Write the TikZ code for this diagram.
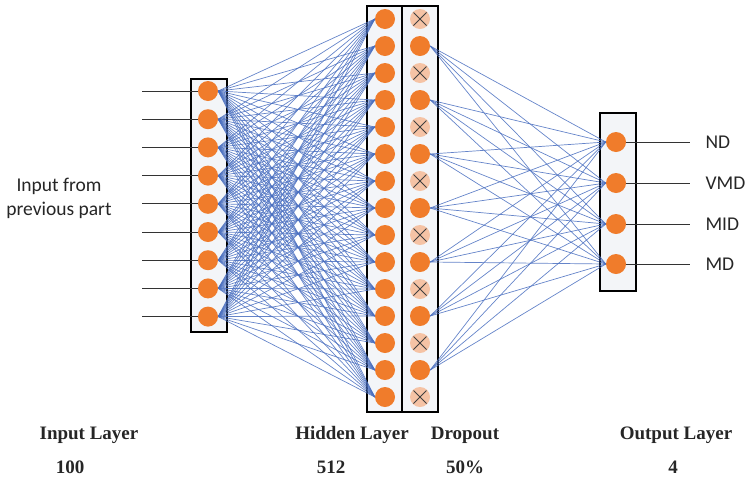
\documentclass[tikz,border=0pt]{standalone}
\usepackage{fontspec}
\setmainfont{Liberation Serif}
\newfontfamily\carlito{Carlito}
\pgfdeclarelayer{back}
\pgfdeclarelayer{mid}
\pgfsetlayers{back,mid,main}
\definecolor{orangeN}{HTML}{F07C2B}
\definecolor{peachN}{HTML}{F5C3A5}
\definecolor{connB}{HTML}{4A6FC0}
\definecolor{boxfill}{HTML}{F3F5F8}
\tikzset{
  neuron/.style={circle, fill=orangeN, minimum size=20pt, inner sep=0pt},
  dropx/.style={circle, fill=peachN, minimum size=20pt, inner sep=0pt,
    path picture={
      \draw[line width=0.8pt, black!75]
        ([shift={(-6.5pt,-6.5pt)}]path picture bounding box.center) -- ([shift={(6.5pt,6.5pt)}]path picture bounding box.center)
        ([shift={(-6.5pt,6.5pt)}]path picture bounding box.center) -- ([shift={(6.5pt,-6.5pt)}]path picture bounding box.center);}},
  layerbox/.style={draw=black, line width=1.3pt, fill=boxfill},
  conn/.style={draw=connB, line width=0.7pt, opacity=0.85},
  iol/.style={draw=black!80, line width=0.8pt},
  sanslbl/.style={font=\carlito\fontsize{19.5}{24}\selectfont, align=center, text=black!85},
  bottomlbl/.style={font=\fontsize{19}{22}\selectfont\bfseries, text=black!85},
}
\begin{document}
\begin{tikzpicture}[x=1pt,y=-1pt]
\useasboundingbox (0,0) rectangle (750,483);
% layer boxes
\begin{pgfonlayer}{back}
\draw[layerbox] (191,79) rectangle (227,332);
\draw[layerbox] (367,6) rectangle (402,412);
\draw[layerbox] (402,6) rectangle (438,412);
\draw[layerbox] (600,113) rectangle (636,291);
\end{pgfonlayer}
% input nodes
\foreach \i in {0,...,8} {
  \pgfmathsetmacro\yy{91+28.2*\i}
  \node[neuron] (in\i) at (208,\yy) {};
  \coordinate (src\i) at (142,\yy);
}
% hidden and dropout nodes
\foreach \j in {0,...,14} {
  \pgfmathsetmacro\yy{19+27*\j}
  \node[neuron] (hid\j) at (385,\yy) {};
  \ifodd\j
    \node[neuron] (dr\j) at (420,\yy) {};
  \else
    \node[dropx] (dr\j) at (420,\yy) {};
  \fi
}
% output nodes
\foreach \k/\yy/\lab in {0/142/ND,1/183/VMD,2/224/MID,3/264/MD} {
  \node[neuron] (out\k) at (616,\yy) {};
  \coordinate (dst\k) at (690,\yy);
  \node[sanslbl, anchor=west] (lab\k) at (702,\yy) {\lab};
}
% connectors
\begin{pgfonlayer}{mid}
\foreach \i in {0,...,8} {
  \draw[iol] (src\i) -- (in\i.center);
  \foreach \j in {0,...,14} {
    \draw[conn] (in\i.east) -- (hid\j.west);
  }
}
\foreach \j in {1,3,...,13} {
  \foreach \k in {0,...,3} {
    \draw[conn] (dr\j.east) -- (out\k.west);
  }
}
\foreach \k in {0,...,3} {
  \draw[iol] (out\k.center) -- (dst\k);
}
\end{pgfonlayer}
% texts
\node[sanslbl] (inputtxt) at (59,198) {Input from\\previous part};
\node[bottomlbl] (t1) at (89,435) {Input Layer};
\node[bottomlbl] (t2) at (352,435) {Hidden Layer};
\node[bottomlbl] (t3) at (465,435) {Dropout};
\node[bottomlbl] (t4) at (676,435) {Output Layer};
\node[bottomlbl] (n1) at (70,467) {100};
\node[bottomlbl] (n2) at (331,467) {512};
\node[bottomlbl] (n3) at (465,467) {50\%};
\node[bottomlbl] (n4) at (673,467) {4};
\end{tikzpicture}
\end{document}
